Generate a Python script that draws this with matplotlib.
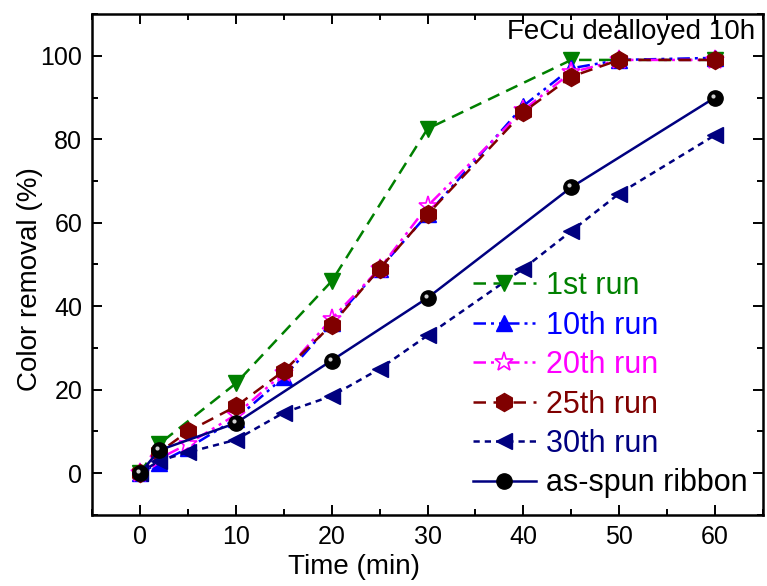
import numpy as np
import matplotlib
matplotlib.use("Agg")
import matplotlib.pyplot as plt
import matplotlib.transforms as mtransforms
from matplotlib.ticker import MultipleLocator

plt.rcParams['font.family'] = ['Liberation Sans', 'DejaVu Sans']

# data
t_run1 = [0, 2, 10, 20, 30, 45, 60]
run1 = [0, 7, 21.5, 46, 82.5, 99, 99]

t_runs = [0, 2, 5, 10, 15, 20, 25, 30, 40, 45, 50, 60]
run10 = [0, 2.5, 6, 13, 23, 36, 49, 62, 88, 97, 99, 99.5]
run20 = [0, 3.5, 7, 14, 24, 37, 49, 64, 87, 96, 99, 99]
run25 = [0, 5, 10, 16, 24.5, 35.5, 49, 62, 86.5, 95, 99, 99]
run30 = [0, 3, 5, 8, 14.5, 18.5, 25, 33, 49, 58, 67, 81]

t_ribbon = [0, 2, 10, 20, 30, 45, 60]
ribbon = [0, 5.5, 12, 27, 42, 68.5, 90]

labels = ["1st run", "10th run", "20th run", "25th run", "30th run", "as-spun ribbon"]

fig = plt.figure(figsize=(7.67, 5.86), dpi=100)
ax = fig.add_axes([0.12, 0.1212, 0.8748, 0.8549])

ms = 12
lw = 1.8
ax.plot(t_run1, run1, color="#008000", ls=(0, (5, 3)), lw=lw, marker="v", ms=ms,
        mec="#008000", mfc="#008000", label=labels[0])
ax.plot(t_runs, run10, color="#0000FF", ls=(0, (5, 2, 1.2, 2, 1.2, 2)), lw=lw, marker="^", ms=ms,
        mec="#0000FF", mfc="#0000FF", label=labels[1])
ax.plot(t_runs, run20, color="#FF00FF", ls=(0, (5, 2, 1.2, 2, 1.2, 2)), lw=lw, marker="*", ms=ms + 2,
        mec="#FF00FF", mfc="white", mew=1.2, label=labels[2])
ax.plot(t_runs, run25, color="#800000", ls=(0, (5, 3)), lw=lw, marker="h", ms=ms + 1,
        mec="#800000", mfc="#800000", label=labels[3])
ax.plot(t_runs, run30, color="#000080", ls=(0, (2.5, 2)), lw=lw, marker="<", ms=ms,
        mec="#000080", mfc="#000080", label=labels[4])
ax.plot(t_ribbon, ribbon, color="#000080", ls="-", lw=lw, marker="o", ms=ms - 1,
        mec="black", mfc="black", label=labels[5])
# highlight on the spheres
shine = mtransforms.offset_copy(ax.transData, fig=fig, x=-2, y=2, units="dots")
ax.plot(t_ribbon, ribbon, ls="none", marker="o", ms=3, mfc="#d0d0d0", mec="none", transform=shine)

ax.set_xlim(-5, 65)
ax.set_ylim(-10, 110)
ax.xaxis.set_major_locator(MultipleLocator(10))
ax.xaxis.set_minor_locator(MultipleLocator(5))
ax.yaxis.set_major_locator(MultipleLocator(20))
ax.yaxis.set_minor_locator(MultipleLocator(10))
ax.set_xticks([0, 10, 20, 30, 40, 50, 60])
ax.tick_params(which="both", direction="in", top=True, right=True, labelsize=18, width=1.4)
ax.tick_params(which="major", length=7, pad=7)
ax.tick_params(which="minor", length=4)
for s in ax.spines.values():
    s.set_linewidth(1.8)

ax.set_xlabel("Time (min)", fontsize=20)
ax.xaxis.set_label_coords(0.39, -0.104)
ax.xaxis.label.set_va("center")
ax.set_ylabel("Color removal (%)", fontsize=20)
ax.yaxis.set_label_coords(-0.092, 0.47)
ax.yaxis.label.set_va("center")

ax.text(0.988, 0.99, "FeCu dealloyed 10h", transform=ax.transAxes, ha="right", va="top", fontsize=20)

leg = ax.legend(loc="lower left", bbox_to_anchor=(0.568, 0.033), frameon=False, fontsize=22,
                handlelength=2.05, labelspacing=0.31, handletextpad=0.33, borderaxespad=0, borderpad=0)
text_colors = ["#008000", "#0000FF", "#FF00FF", "#800000", "#000080", "black"]
for txt, c in zip(leg.get_texts(), text_colors):
    txt.set_color(c)

fig.savefig("out.png", dpi=100)
